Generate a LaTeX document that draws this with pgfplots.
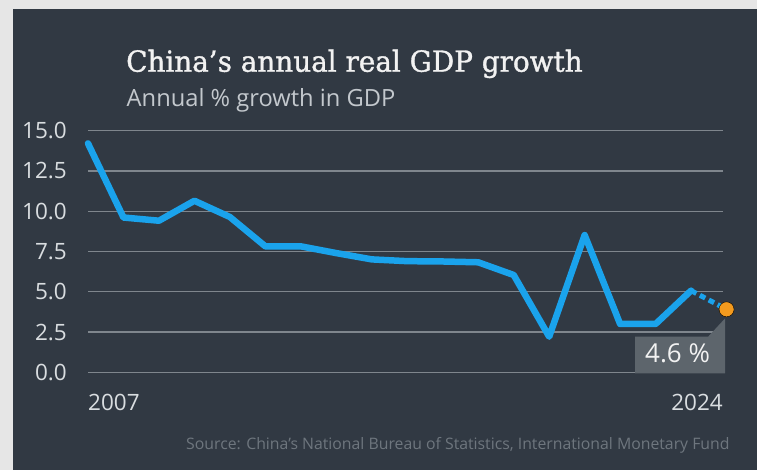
\documentclass[border=0pt]{standalone}
\usepackage{pgfplots}
\pgfplotsset{compat=1.18}
\usepackage{fontspec}
\setmainfont{Open Sans}
\newfontfamily\titlefont[FakeBold=1.2]{DejaVu Serif}
\definecolor{bggray}{HTML}{E6E6E6}
\definecolor{panel}{HTML}{313943}
\definecolor{gridc}{HTML}{7F868D}
\definecolor{lineblue}{HTML}{1AA3EC}
\definecolor{dotorange}{HTML}{F39A1E}
\definecolor{boxgray}{HTML}{5D656C}
\definecolor{ticktext}{HTML}{D9DDE0}
\definecolor{subtext}{HTML}{C3C8CD}
\definecolor{srctext}{HTML}{6E767E}
\definecolor{titlewhite}{HTML}{F2F2F2}
\begin{document}
\begin{tikzpicture}[x=1pt,y=1pt]
\fill[bggray] (0,0) rectangle (757,470);
\fill[panel] (13,0) rectangle (757,461);
\node[anchor=base west, inner sep=0pt, xscale=0.96, text=titlewhite, font=\titlefont\fontsize{29}{29}\selectfont] at (126,398.3) {China’s annual real GDP growth};
\node[anchor=base west, inner sep=0pt, text=subtext, font=\fontsize{23.7}{23.7}\selectfont] at (126.5,363.3) {Annual \% growth in GDP};
\node[anchor=base west, inner sep=0pt, text=srctext, font=\fontsize{15.8}{15.8}\selectfont] at (186,20.7) {Source: China’s National Bureau of Statistics, International Monetary Fund};
\begin{axis}[
  at={(88pt,97.7pt)}, anchor=south west, scale only axis,
  width=635pt, height=241.6pt,
  xmin=0, xmax=17.9, ymin=0, ymax=15,
  axis line style={draw=none}, major tick length=0pt,
  xtick=\empty,
  ytick={0,2.5,5,7.5,10,12.5,15},
  ymajorgrids, grid style={gridc, line width=1.3pt},
  yticklabel style={anchor=east, inner sep=0pt, xshift=-21pt, text=ticktext, font=\fontsize{22.5}{22.5}\selectfont},
  /pgf/number format/.cd, fixed, fixed zerofill, precision=1, assume math mode=true,
  /pgfplots/clip=false,
]
\addplot[lineblue, line width=6.5pt, line join=round, line cap=round] coordinates {
(0,14.21) (1,9.61) (2,9.41) (3,10.65) (4,9.64) (5,7.82) (6,7.82) (7,7.4) (8,7.01) (9,6.9)
(10,6.88) (11,6.83) (12,6.04) (13,2.21) (14,8.52) (15,3.0) (16,3.0) (17,5.07)
};
\addplot[lineblue, line width=5pt, dash pattern=on 6pt off 4pt] coordinates {(17,5.07) (18,3.91)};
\fill[boxgray] (axis cs:15.42,2.21) -- (axis cs:17.48,2.21) -- (axis cs:17.96,3.35) -- (axis cs:17.96,-0.06) -- (axis cs:15.42,-0.06) -- cycle;
\addplot[only marks, mark=*, mark size=7.5pt, mark options={fill=dotorange, draw=none}] coordinates {(18,3.91)};
\node[anchor=base, inner sep=0pt, text=titlewhite, font=\fontsize{26}{26}\selectfont] at (axis cs:16.62,0.6) {4.6 \%};
\node[anchor=base west, inner sep=0pt, text=ticktext, font=\fontsize{22.5}{22.5}\selectfont] at (axis cs:0,0) [yshift=-38pt] {2007};
\node[anchor=base east, inner sep=0pt, text=ticktext, font=\fontsize{22.5}{22.5}\selectfont] at (axis cs:17.9,0) [yshift=-38pt] {2024};
\end{axis}
\pgfresetboundingbox
\path[use as bounding box] (0,0) rectangle (757,470);
\end{tikzpicture}
\end{document}
